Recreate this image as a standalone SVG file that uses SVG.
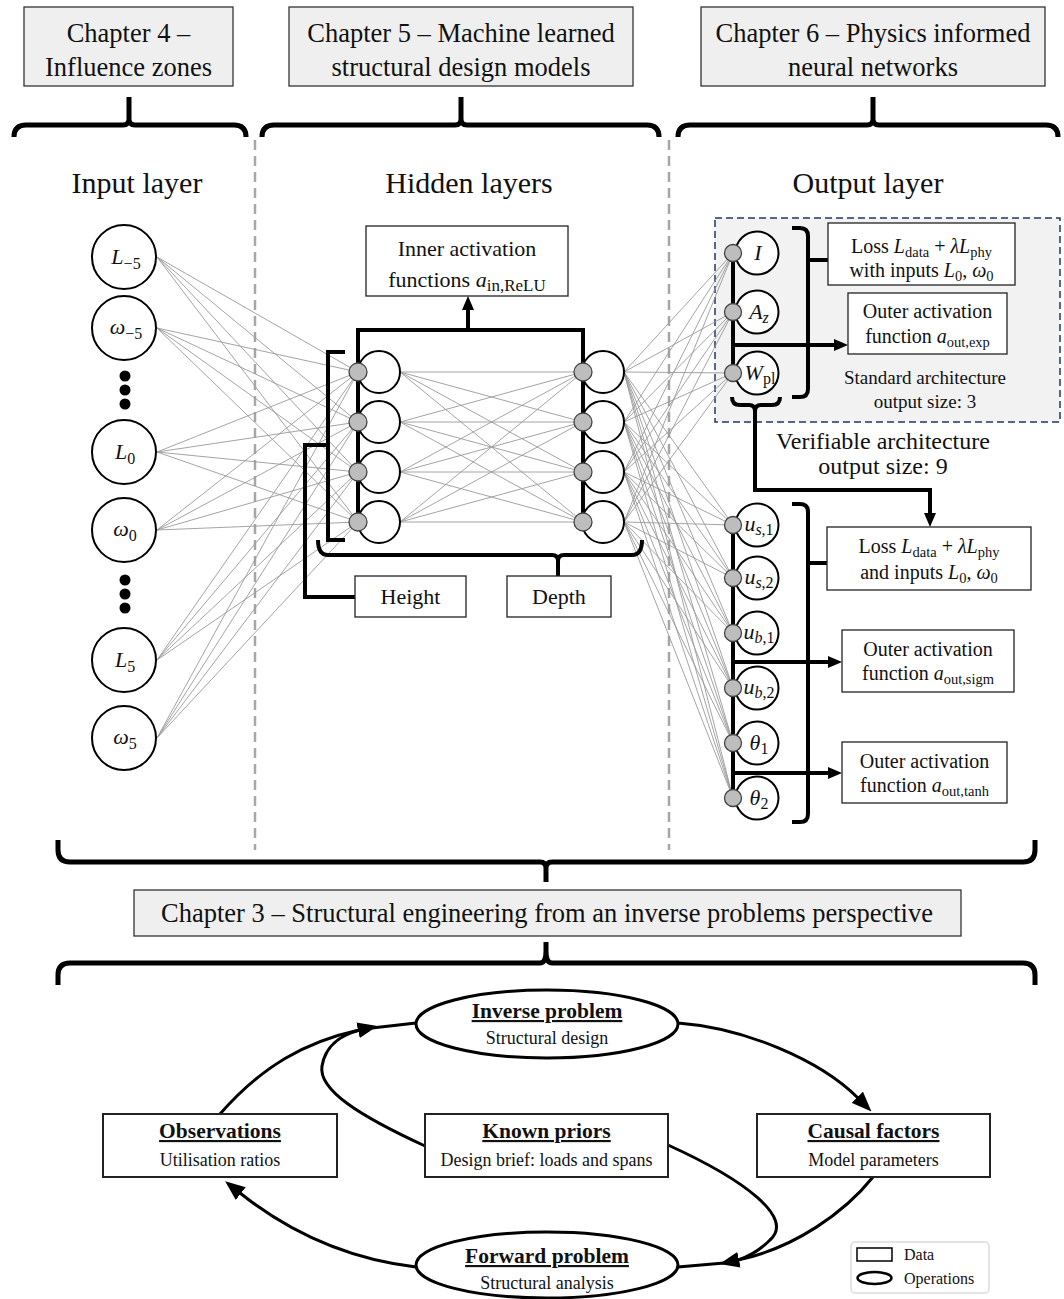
<svg xmlns="http://www.w3.org/2000/svg" width="1064" height="1299" viewBox="0 0 1064 1299">
<defs>
<style>
.t{font-family:"Liberation Serif","Times New Roman",serif;fill:#111}
.hdr{font-size:26.5px}
.ttl{font-size:30px}
.lb{font-size:20px}
.lb22{font-size:22px}
.nl{font-size:22px}
.i{font-style:italic}
.sb{font-size:14.5px}
.ns{font-size:16px}
.b{font-weight:bold;font-size:21.5px;text-decoration:underline}
.r{font-size:18px}
.box{fill:#fff;stroke:#222;stroke-width:1.3}
.cbox{fill:#fff;stroke:#222;stroke-width:2}
.chap{fill:#efefef;stroke:#333;stroke-width:1.3}
.brace{fill:none;stroke:#000;stroke-width:5}
.thick{fill:none;stroke:#000;stroke-width:4}
.wire{fill:none;stroke:#9a9a9a;stroke-width:0.9}
.node{fill:#fff;stroke:#000;stroke-width:2}
.pin{fill:#bdbdbd;stroke:#444;stroke-width:1.3}
.sep{stroke:#a6a6a6;stroke-width:2.5;stroke-dasharray:10 6}
.cyc{fill:none;stroke:#000;stroke-width:3}
</style>
<marker id="hd" viewBox="0 0 14 12" refX="1" refY="6" markerWidth="14" markerHeight="12" markerUnits="userSpaceOnUse" orient="auto">
<path d="M0,0 L14,6 L0,12 z" fill="#000"/>
</marker>
<marker id="ch" viewBox="0 0 20 16" refX="1" refY="8" markerWidth="20" markerHeight="16" markerUnits="userSpaceOnUse" orient="auto">
<path d="M0,0 L20,8 L0,16 z" fill="#000"/>
</marker>
</defs>
<rect width="1064" height="1299" fill="#fff"/>

<!-- chapter headings -->
<g id="ch4">
<rect class="chap" x="24" y="7" width="209" height="79"/>
<text class="t hdr" x="128.5" y="42" text-anchor="middle">Chapter 4 –</text>
<text class="t hdr" x="128.5" y="76" text-anchor="middle">Influence zones</text>
</g>
<g id="ch5">
<rect class="chap" x="289" y="7" width="344" height="79"/>
<text class="t hdr" x="461" y="42" text-anchor="middle">Chapter 5 – Machine learned</text>
<text class="t hdr" x="461" y="76" text-anchor="middle">structural design models</text>
</g>
<g id="ch6">
<rect class="chap" x="701" y="7" width="344" height="79"/>
<text class="t hdr" x="873" y="42" text-anchor="middle">Chapter 6 – Physics informed</text>
<text class="t hdr" x="873" y="76" text-anchor="middle">neural networks</text>
</g>

<!-- braces under chapter headings -->
<g id="top-braces">
<path class="brace" d="M14,137 Q14,125 26,125 H123 Q129,125 129,119 V97 M129,119 Q129,125 135,125 H234 Q246,125 246,137"/>
<path class="brace" d="M262,137 Q262,125 274,125 H455 Q461,125 461,119 V97 M461,119 Q461,125 467,125 H647 Q659,125 659,137"/>
<path class="brace" d="M678,137 Q678,125 690,125 H867 Q873,125 873,119 V97 M873,119 Q873,125 879,125 H1046 Q1058,125 1058,137"/>
</g>

<!-- layer separators -->
<line class="sep" x1="255" y1="140" x2="255" y2="850"/>
<line class="sep" x1="669" y1="140" x2="669" y2="850"/>

<!-- layer titles -->
<text class="t ttl" x="137" y="193" text-anchor="middle">Input layer</text>
<text class="t ttl" x="469" y="193" text-anchor="middle">Hidden layers</text>
<text class="t ttl" x="868" y="193" text-anchor="middle">Output layer</text>

<!-- standard architecture panel -->
<rect x="715" y="218" width="345" height="204" fill="#f2f2f2" stroke="#203864" stroke-width="1.5" stroke-dasharray="7 4"/>

<!-- weights -->
<g id="connectors">
<path class="wire" d="M157 257L358 372M157 257L358 422M157 257L358 472M157 257L358 522
M157 328L358 372M157 328L358 422M157 328L358 472M157 328L358 522
M157 452L358 372M157 452L358 422M157 452L358 472M157 452L358 522
M157 530L358 372M157 530L358 422M157 530L358 472M157 530L358 522
M157 660L358 372M157 660L358 422M157 660L358 472M157 660L358 522
M157 738L358 372M157 738L358 422M157 738L358 472M157 738L358 522"/>
<path class="wire" d="M400 372L583 372M400 372L583 422M400 372L583 472M400 372L583 522
M400 422L583 372M400 422L583 422M400 422L583 472M400 422L583 522
M400 472L583 372M400 472L583 422M400 472L583 472M400 472L583 522
M400 522L583 372M400 522L583 422M400 522L583 472M400 522L583 522"/>
<path class="wire" d="M624 372L733 253M624 372L733 312M624 372L733 373M624 372L733 525M624 372L733 578M624 372L733 633M624 372L733 688M624 372L733 743M624 372L733 798
M624 422L733 253M624 422L733 312M624 422L733 373M624 422L733 525M624 422L733 578M624 422L733 633M624 422L733 688M624 422L733 743M624 422L733 798
M624 472L733 253M624 472L733 312M624 472L733 373M624 472L733 525M624 472L733 578M624 472L733 633M624 472L733 688M624 472L733 743M624 472L733 798
M624 522L733 253M624 522L733 312M624 522L733 373M624 522L733 525M624 522L733 578M624 522L733 633M624 522L733 688M624 522L733 743M624 522L733 798"/>

<!-- hidden layer frame and brackets -->
<path class="thick" d="M358,522 V330 H583 V522"/>
<path class="thick" d="M468,330 V309" marker-end="url(#hd)"/>
<path class="thick" d="M345,352 H328 V540 H345 M328,445 H305 V597 H355"/>
<path class="thick" d="M318,540 Q318,555 328,555 H552 Q558,555 558,561 V576 M558,561 Q558,555 564,555 H632 Q642,555 642,540"/>

<!-- output layer bus lines and brackets -->
<path class="thick" d="M733,253 V373"/>
<path class="thick" d="M733,345 H835" marker-end="url(#hd)"/>
<path class="thick" d="M732,397 Q732,405 740,405 H749 Q755,405 755,411 V490 H930 V514" marker-end="url(#hd)"/>
<path class="thick" d="M755,411 Q755,405 761,405 H772 Q780,405 780,397"/>
<path class="thick" d="M792,228 H800 Q808,228 808,236 V389 Q808,397 800,397 H792 M808,260 H828"/>
<path class="thick" d="M792,504 H800 Q808,504 808,512 V814 Q808,822 800,822 H792 M808,563 H827"/>
<path class="thick" d="M733,525 V798"/>
<path class="thick" d="M733,662 H829" marker-end="url(#hd)"/>
<path class="thick" d="M733,773 H829" marker-end="url(#hd)"/>
</g>

<!-- input layer -->
<g id="in-L-5"><circle class="node" cx="124" cy="257" r="32"/><text class="t nl" x="126" y="264" text-anchor="middle"><tspan class="i">L</tspan><tspan class="ns" dy="5">−5</tspan></text></g>
<g id="in-w-5"><circle class="node" cx="124" cy="328" r="32"/><text class="t nl" x="126" y="334" text-anchor="middle"><tspan class="i">ω</tspan><tspan class="ns" dy="5">−5</tspan></text></g>
<g id="in-dots-a"><circle cx="125" cy="376" r="5.5"/><circle cx="125" cy="390" r="5.5"/><circle cx="125" cy="404" r="5.5"/></g>
<g id="in-L0"><circle class="node" cx="124" cy="452" r="32"/><text class="t nl" x="125" y="459" text-anchor="middle"><tspan class="i">L</tspan><tspan class="ns" dy="5">0</tspan></text></g>
<g id="in-w0"><circle class="node" cx="124" cy="530" r="32"/><text class="t nl" x="125" y="536" text-anchor="middle"><tspan class="i">ω</tspan><tspan class="ns" dy="5">0</tspan></text></g>
<g id="in-dots-b"><circle cx="125" cy="580" r="5.5"/><circle cx="125" cy="594" r="5.5"/><circle cx="125" cy="608" r="5.5"/></g>
<g id="in-L5"><circle class="node" cx="124" cy="660" r="32"/><text class="t nl" x="125" y="667" text-anchor="middle"><tspan class="i">L</tspan><tspan class="ns" dy="5">5</tspan></text></g>
<g id="in-w5"><circle class="node" cx="124" cy="738" r="32"/><text class="t nl" x="125" y="744" text-anchor="middle"><tspan class="i">ω</tspan><tspan class="ns" dy="5">5</tspan></text></g>

<!-- hidden layers -->
<g id="hidden-1">
<circle class="node" cx="379" cy="372" r="21"/><circle class="node" cx="379" cy="422" r="21"/><circle class="node" cx="379" cy="472" r="21"/><circle class="node" cx="379" cy="522" r="21"/>
<circle class="pin" cx="358" cy="372" r="9"/><circle class="pin" cx="358" cy="422" r="9"/><circle class="pin" cx="358" cy="472" r="9"/><circle class="pin" cx="358" cy="522" r="9"/>
</g>
<g id="hidden-2">
<circle class="node" cx="603" cy="372" r="21"/><circle class="node" cx="603" cy="422" r="21"/><circle class="node" cx="603" cy="472" r="21"/><circle class="node" cx="603" cy="522" r="21"/>
<circle class="pin" cx="583" cy="372" r="9"/><circle class="pin" cx="583" cy="422" r="9"/><circle class="pin" cx="583" cy="472" r="9"/><circle class="pin" cx="583" cy="522" r="9"/>
</g>
<g id="inner-activation">
<rect class="box" x="366" y="226" width="202" height="70"/>
<text class="t lb22" x="467" y="256" text-anchor="middle">Inner activation</text>
<text class="t lb22" x="467" y="287" text-anchor="middle">functions <tspan class="i">a</tspan><tspan font-size="17" dy="4">in,ReLU</tspan></text>
</g>
<g id="height"><rect class="box" x="355" y="576" width="111" height="41"/><text class="t lb22" x="410.5" y="604" text-anchor="middle">Height</text></g>
<g id="depth"><rect class="box" x="507" y="576" width="104" height="41"/><text class="t lb22" x="559" y="604" text-anchor="middle">Depth</text></g>

<!-- output layer: standard architecture -->
<g id="out-I"><circle class="node" cx="757" cy="253" r="21.5"/><circle class="pin" cx="733" cy="253" r="8.5"/><text class="t nl i" x="758" y="260" text-anchor="middle">I</text></g>
<g id="out-Az"><circle class="node" cx="757" cy="312" r="21.5"/><circle class="pin" cx="733" cy="312" r="8.5"/><text class="t nl" x="759" y="319" text-anchor="middle"><tspan class="i">A</tspan><tspan class="ns i" dy="4">z</tspan></text></g>
<g id="out-Wpl"><circle class="node" cx="757" cy="373" r="21.5"/><circle class="pin" cx="733" cy="373" r="8.5"/><text class="t nl" x="760" y="380" text-anchor="middle"><tspan class="i">W</tspan><tspan class="ns" dy="4">pl</tspan></text></g>
<g id="loss-standard">
<rect class="box" x="828" y="223" width="187" height="62"/>
<text class="t lb" x="921.5" y="253" text-anchor="middle">Loss <tspan class="i">L</tspan><tspan class="sb" dy="4">data</tspan><tspan dy="-4"> + </tspan><tspan class="i">λL</tspan><tspan class="sb" dy="4">phy</tspan></text>
<text class="t lb" x="921.5" y="277" text-anchor="middle">with inputs <tspan class="i">L</tspan><tspan class="sb" dy="4">0</tspan><tspan dy="-4">, </tspan><tspan class="i">ω</tspan><tspan class="sb" dy="4">0</tspan></text>
</g>
<g id="act-exp">
<rect class="box" x="848" y="293" width="159" height="61"/>
<text class="t lb" x="927.5" y="318" text-anchor="middle">Outer activation</text>
<text class="t lb" x="927.5" y="343" text-anchor="middle">function <tspan class="i">a</tspan><tspan class="sb" dy="4">out,exp</tspan></text>
</g>
<text class="t" font-size="19" x="925" y="384" text-anchor="middle">Standard architecture</text>
<text class="t" font-size="19" x="925" y="408" text-anchor="middle">output size: 3</text>
<text class="t" font-size="24" x="883" y="449" text-anchor="middle">Verifiable architecture</text>
<text class="t" font-size="24" x="883" y="474" text-anchor="middle">output size: 9</text>

<!-- output layer: verifiable architecture -->
<g id="out-us1"><circle class="node" cx="757" cy="525" r="21.5"/><circle class="pin" cx="733" cy="525" r="8.5"/><text class="t nl" x="759" y="531" text-anchor="middle"><tspan class="i">u</tspan><tspan class="ns" dy="4"><tspan class="i">s</tspan>,1</tspan></text></g>
<g id="out-us2"><circle class="node" cx="757" cy="578" r="21.5"/><circle class="pin" cx="733" cy="578" r="8.5"/><text class="t nl" x="759" y="584" text-anchor="middle"><tspan class="i">u</tspan><tspan class="ns" dy="4"><tspan class="i">s</tspan>,2</tspan></text></g>
<g id="out-ub1"><circle class="node" cx="757" cy="633" r="21.5"/><circle class="pin" cx="733" cy="633" r="8.5"/><text class="t nl" x="759" y="639" text-anchor="middle"><tspan class="i">u</tspan><tspan class="ns" dy="4"><tspan class="i">b</tspan>,1</tspan></text></g>
<g id="out-ub2"><circle class="node" cx="757" cy="688" r="21.5"/><circle class="pin" cx="733" cy="688" r="8.5"/><text class="t nl" x="759" y="694" text-anchor="middle"><tspan class="i">u</tspan><tspan class="ns" dy="4"><tspan class="i">b</tspan>,2</tspan></text></g>
<g id="out-t1"><circle class="node" cx="757" cy="743" r="21.5"/><circle class="pin" cx="733" cy="743" r="8.5"/><text class="t nl" x="759" y="750" text-anchor="middle"><tspan class="i">θ</tspan><tspan class="ns" dy="4">1</tspan></text></g>
<g id="out-t2"><circle class="node" cx="757" cy="798" r="21.5"/><circle class="pin" cx="733" cy="798" r="8.5"/><text class="t nl" x="759" y="805" text-anchor="middle"><tspan class="i">θ</tspan><tspan class="ns" dy="4">2</tspan></text></g>
<g id="loss-verifiable">
<rect class="box" x="827" y="527" width="204" height="63"/>
<text class="t lb" x="929" y="553" text-anchor="middle">Loss <tspan class="i">L</tspan><tspan class="sb" dy="4">data</tspan><tspan dy="-4"> + </tspan><tspan class="i">λL</tspan><tspan class="sb" dy="4">phy</tspan></text>
<text class="t lb" x="929" y="579" text-anchor="middle">and inputs <tspan class="i">L</tspan><tspan class="sb" dy="4">0</tspan><tspan dy="-4">, </tspan><tspan class="i">ω</tspan><tspan class="sb" dy="4">0</tspan></text>
</g>
<g id="act-sigm">
<rect class="box" x="842" y="630" width="172" height="62"/>
<text class="t lb" x="928" y="656" text-anchor="middle">Outer activation</text>
<text class="t lb" x="928" y="680" text-anchor="middle">function <tspan class="i">a</tspan><tspan class="sb" dy="4">out,sigm</tspan></text>
</g>
<g id="act-tanh">
<rect class="box" x="842" y="742" width="165" height="61"/>
<text class="t lb" x="924.5" y="768" text-anchor="middle">Outer activation</text>
<text class="t lb" x="924.5" y="792" text-anchor="middle">function <tspan class="i">a</tspan><tspan class="sb" dy="4">out,tanh</tspan></text>
</g>

<!-- chapter 3 -->
<path class="brace" d="M58,840 V850 Q58,862 70,862 H540 Q546,862 546,868 V882 M546,868 Q546,862 552,862 H1023 Q1035,862 1035,850 V840"/>
<g id="ch3">
<rect class="chap" x="134" y="890" width="827" height="46"/>
<text class="t hdr" x="547" y="922" text-anchor="middle">Chapter 3 – Structural engineering from an inverse problems perspective</text>
</g>
<path class="brace" d="M546,942 V951 Q546,963 540,963 H70 Q58,963 58,975 V985 M546,951 Q546,963 552,963 H1023 Q1035,963 1035,975 V985"/>

<!-- inverse problem cycle -->
<g id="cycle-connectors">
<path class="cyc" d="M220,1114 C262,1066 305,1042 359,1030" marker-end="url(#ch)"/>
<path class="cyc" d="M425,1146 C360,1116 318,1090 322,1066 C326,1042 345,1034 360,1030"/>
<path class="cyc" d="M372,1028 L416,1023"/>
<path class="cyc" d="M678,1023 C745,1028 820,1060 858,1098" marker-end="url(#ch)"/>
<path class="cyc" d="M873,1177 C845,1212 795,1248 738,1260" marker-end="url(#ch)"/>
<path class="cyc" d="M668,1145 C745,1180 795,1218 770,1240 C760,1250 750,1256 738,1260"/>
<path class="cyc" d="M724,1263 L678,1267"/>
<path class="cyc" d="M416,1267 C340,1258 284,1228 240,1193" marker-end="url(#ch)"/>
</g>
<g id="inverse-problem">
<ellipse cx="547" cy="1024" rx="131" ry="34" fill="#fff" stroke="#000" stroke-width="3"/>
<text class="t b" x="547" y="1018" text-anchor="middle">Inverse problem</text>
<text class="t r" x="547" y="1044" text-anchor="middle">Structural design</text>
</g>
<g id="observations">
<rect class="cbox" x="103" y="1114" width="234" height="63"/>
<text class="t b" x="220" y="1138" text-anchor="middle">Observations</text>
<text class="t r" x="220" y="1166" text-anchor="middle">Utilisation ratios</text>
</g>
<g id="known-priors">
<rect class="cbox" x="425" y="1114" width="243" height="63"/>
<text class="t b" x="546.5" y="1138" text-anchor="middle">Known priors</text>
<text class="t r" x="546.5" y="1166" text-anchor="middle">Design brief: loads and spans</text>
</g>
<g id="causal-factors">
<rect class="cbox" x="757" y="1114" width="233" height="63"/>
<text class="t b" x="873.5" y="1138" text-anchor="middle">Causal factors</text>
<text class="t r" x="873.5" y="1166" text-anchor="middle">Model parameters</text>
</g>
<g id="forward-problem">
<ellipse cx="547" cy="1265" rx="131" ry="33" fill="#fff" stroke="#000" stroke-width="3"/>
<text class="t b" x="547" y="1263" text-anchor="middle">Forward problem</text>
<text class="t r" x="547" y="1289" text-anchor="middle">Structural analysis</text>
</g>

<!-- legend -->
<g id="legend">
<rect x="851" y="1242" width="138" height="51" rx="4" fill="#fff" stroke="#dcdcdc" stroke-width="1.5"/>
<rect x="857" y="1248" width="35" height="13" fill="#fff" stroke="#000" stroke-width="1.5"/>
<ellipse cx="874.5" cy="1278" rx="17" ry="6" fill="#fff" stroke="#000" stroke-width="2.5"/>
<text class="t" font-size="16" x="904" y="1260">Data</text>
<text class="t" font-size="16" x="904" y="1284">Operations</text>
</g>
</svg>
